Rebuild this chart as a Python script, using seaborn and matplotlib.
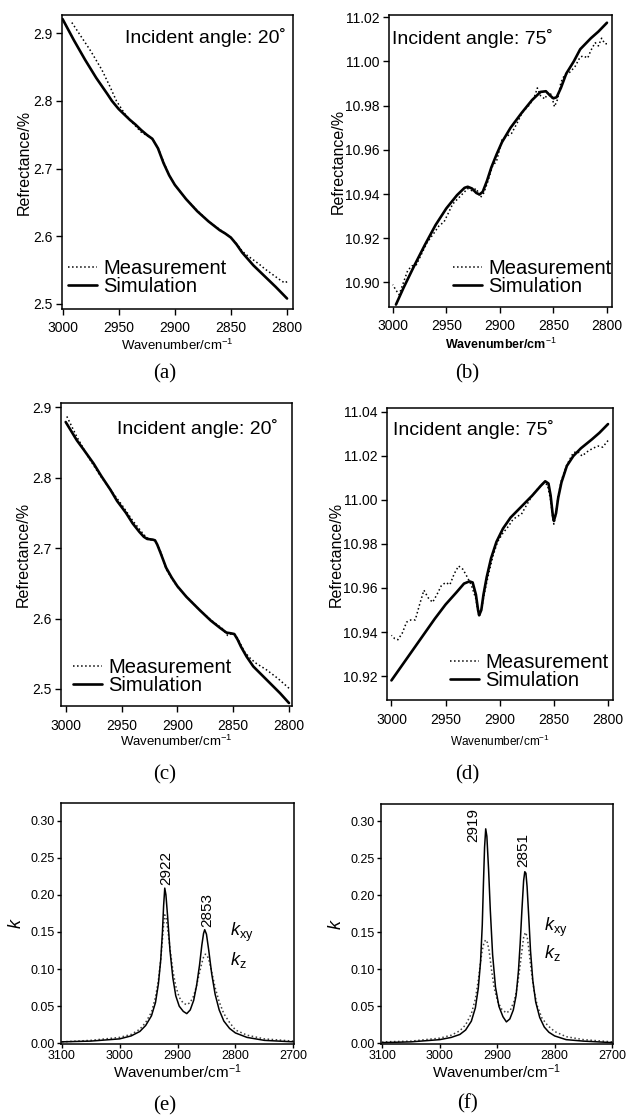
import pandas as pd
import seaborn as sns
import matplotlib.pyplot as plt
from matplotlib.ticker import FormatStrFormatter, MultipleLocator

# --- (a) incident angle 20 deg ---
a_meas_wn = [2993, 2985, 2975, 2965, 2958, 2952, 2945, 2940, 2935, 2930, 2925, 2920, 2915, 2910,
             2905, 2900, 2890, 2880, 2870, 2860, 2850, 2845, 2840, 2835, 2830, 2825, 2820, 2815,
             2810, 2805, 2802, 2800]
a_meas_r = [2.919, 2.899, 2.874, 2.846, 2.822, 2.800, 2.782, 2.772, 2.763, 2.754, 2.749, 2.744, 2.731,
            2.710, 2.690, 2.676, 2.655, 2.638, 2.622, 2.610, 2.598, 2.589, 2.578, 2.571, 2.565, 2.559,
            2.552, 2.546, 2.540, 2.534, 2.531, 2.533]
a_sim_wn = [3000, 2990, 2980, 2970, 2960, 2956, 2950, 2940, 2935, 2930, 2925, 2920, 2915, 2910, 2905,
            2900, 2890, 2880, 2870, 2860, 2855, 2850, 2845, 2840, 2830, 2820, 2810, 2800]
a_sim_r = [2.921, 2.890, 2.861, 2.834, 2.810, 2.800, 2.788, 2.772, 2.765, 2.757, 2.750, 2.744, 2.730,
           2.708, 2.690, 2.676, 2.655, 2.637, 2.622, 2.609, 2.604, 2.598, 2.588, 2.576, 2.557, 2.541,
           2.525, 2.508]

# --- (b) incident angle 75 deg ---
b_meas_wn = [3000, 2997, 2994, 2990, 2986, 2982, 2978, 2974, 2968, 2962, 2957, 2952, 2948, 2944, 2939,
             2935, 2930, 2926, 2922, 2918, 2915, 2911, 2907, 2903, 2898, 2894, 2889, 2884, 2879, 2873,
             2868, 2865, 2862, 2858, 2855, 2852, 2849, 2846, 2843, 2840, 2835, 2830, 2825, 2822, 2818,
             2815, 2811, 2808, 2805, 2802, 2800]
b_meas_r = [10.899, 10.8965, 10.8945, 10.900, 10.9055, 10.9075, 10.908, 10.912, 10.918, 10.922, 10.9255,
            10.9275, 10.9315, 10.9355, 10.938, 10.940, 10.9425, 10.9415, 10.9425, 10.9385, 10.9405,
            10.946, 10.9525, 10.955, 10.9645, 10.966, 10.9675, 10.972, 10.977, 10.980, 10.9835, 10.988,
            10.9845, 10.983, 10.986, 10.985, 10.9795, 10.983, 10.9905, 10.9935, 10.995, 10.9975, 11.002,
            11.0025, 11.0015, 11.005, 11.0085, 11.007, 11.0105, 11.008, 11.008]
b_sim_wn = [2997, 2990, 2980, 2970, 2960, 2950, 2940, 2933, 2930, 2926, 2922, 2919, 2916, 2912, 2908,
            2903, 2898, 2890, 2880, 2870, 2862, 2857, 2853, 2850, 2847, 2843, 2838, 2831, 2825, 2815,
            2808, 2800]
b_sim_r = [10.890, 10.8975, 10.9075, 10.917, 10.926, 10.9335, 10.9395, 10.9428, 10.9433, 10.9425,
           10.9405, 10.9398, 10.941, 10.946, 10.952, 10.958, 10.9635, 10.970, 10.9765, 10.9825, 10.9862,
           10.9865, 10.9845, 10.9833, 10.9838, 10.988, 10.9945, 11.000, 11.0055, 11.0105, 11.0135,
           11.0175]

# --- (c) incident angle 20 deg ---
c_meas_wn = [2999, 2990, 2980, 2970, 2960, 2950, 2940, 2930, 2925, 2920, 2915, 2910, 2905, 2900, 2890,
             2880, 2870, 2860, 2855, 2852, 2848, 2845, 2840, 2835, 2830, 2820, 2810, 2800]
c_meas_r = [2.887, 2.858, 2.830, 2.805, 2.783, 2.762, 2.739, 2.719, 2.712, 2.711, 2.695, 2.670, 2.657,
            2.645, 2.628, 2.612, 2.598, 2.586, 2.576, 2.578, 2.577, 2.569, 2.553, 2.544, 2.537, 2.527,
            2.515, 2.501]
c_sim_wn = [3000, 2990, 2984, 2975, 2968, 2960, 2954, 2946, 2940, 2934, 2930, 2927, 2922, 2920, 2918,
            2915, 2910, 2905, 2900, 2892, 2880, 2870, 2862, 2856, 2852, 2849, 2846, 2843, 2838, 2832,
            2820, 2808, 2800]
c_sim_r = [2.879, 2.853, 2.840, 2.820, 2.802, 2.783, 2.767, 2.750, 2.735, 2.723, 2.716, 2.713, 2.712,
           2.711, 2.705, 2.693, 2.672, 2.658, 2.646, 2.631, 2.612, 2.597, 2.587, 2.580, 2.579, 2.578,
           2.570, 2.560, 2.546, 2.532, 2.513, 2.494, 2.480]

# --- (d) incident angle 75 deg ---
d_meas_wn = [3000, 2997, 2994, 2990, 2986, 2982, 2978, 2974, 2970, 2966, 2962, 2958, 2954, 2950, 2946,
             2942, 2938, 2934, 2930, 2926, 2922, 2920, 2919, 2917, 2914, 2910, 2906, 2902, 2897, 2892,
             2888, 2884, 2880, 2876, 2870, 2865, 2860, 2856, 2853, 2851, 2850, 2848, 2846, 2843, 2838,
             2832, 2828, 2824, 2819, 2814, 2809, 2805, 2800]
d_meas_r = [10.9385, 10.937, 10.9365, 10.9395, 10.9445, 10.9455, 10.9455, 10.9525, 10.959, 10.9555,
            10.9535, 10.957, 10.961, 10.9625, 10.9615, 10.9665, 10.970, 10.9685, 10.965, 10.961, 10.955,
            10.949, 10.947, 10.950, 10.958, 10.967, 10.975, 10.981, 10.985, 10.988, 10.991, 10.9925,
            10.9935, 10.997, 11.002, 11.005, 11.0075, 11.007, 11.000, 10.992, 10.989, 10.994, 11.002,
            11.009, 11.016, 11.0215, 11.022, 11.020, 11.022, 11.0235, 11.0245, 11.024, 11.027]
d_sim_wn = [3000, 2990, 2980, 2970, 2960, 2950, 2940, 2933, 2928, 2925, 2922, 2920, 2919, 2917, 2915,
            2912, 2908, 2903, 2897, 2890, 2880, 2870, 2862, 2858, 2855, 2853, 2851, 2850, 2848, 2846,
            2843, 2838, 2832, 2825, 2815, 2808, 2800]
d_sim_r = [10.918, 10.925, 10.932, 10.939, 10.946, 10.9525, 10.958, 10.962, 10.963, 10.9625, 10.957,
           10.950, 10.9476, 10.950, 10.957, 10.965, 10.9735, 10.981, 10.987, 10.992, 10.997, 11.002,
           11.0065, 11.0085, 11.0075, 11.002, 10.993, 10.9905, 10.994, 11.001, 11.008, 11.0155, 11.020,
           11.0235, 11.0275, 11.0305, 11.0345]

# --- (e) optical constants k ---
e_wn = [3100, 3050, 3000, 2980, 2965, 2955, 2945, 2938, 2933, 2929, 2926, 2924, 2922, 2920, 2917, 2913,
        2908, 2903, 2897, 2890, 2884, 2878, 2872, 2867, 2862, 2858, 2855, 2853, 2850, 2846, 2841, 2835,
        2828, 2820, 2810, 2800, 2780, 2750, 2700]
e_kxy = [0.002, 0.003, 0.006, 0.010, 0.016, 0.024, 0.037, 0.055, 0.080, 0.112, 0.150, 0.185, 0.209,
         0.200, 0.170, 0.125, 0.088, 0.064, 0.050, 0.043, 0.040, 0.045, 0.058, 0.078, 0.105, 0.132,
         0.148, 0.153, 0.147, 0.125, 0.094, 0.066, 0.045, 0.030, 0.020, 0.014, 0.008, 0.004, 0.002]
e_kz_wn = [3100, 3050, 3000, 2980, 2965, 2955, 2945, 2938, 2933, 2929, 2926, 2924, 2922, 2920, 2917,
           2913, 2908, 2903, 2897, 2890, 2884, 2878, 2872, 2867, 2862, 2858, 2855, 2852, 2849, 2845,
           2840, 2835, 2828, 2820, 2810, 2800, 2780, 2750, 2700]
e_kz = [0.002, 0.004, 0.008, 0.012, 0.019, 0.028, 0.042, 0.062, 0.085, 0.112, 0.140, 0.160, 0.173,
        0.170, 0.155, 0.128, 0.098, 0.077, 0.062, 0.054, 0.052, 0.055, 0.064, 0.078, 0.095, 0.108,
        0.116, 0.120, 0.119, 0.110, 0.093, 0.075, 0.056, 0.040, 0.028, 0.018, 0.011, 0.006, 0.003]

# --- (f) optical constants k ---
f_wn = [3100, 3050, 3000, 2980, 2965, 2955, 2945, 2938, 2933, 2929, 2926, 2924, 2922, 2920, 2918, 2915,
        2912, 2908, 2903, 2897, 2890, 2884, 2878, 2872, 2867, 2863, 2860, 2857, 2854, 2852, 2850, 2848,
        2845, 2842, 2838, 2833, 2826, 2818, 2810, 2800, 2780, 2750, 2700]
f_kxy = [0.001, 0.002, 0.005, 0.008, 0.012, 0.018, 0.030, 0.048, 0.074, 0.110, 0.160, 0.215, 0.265,
         0.290, 0.280, 0.235, 0.180, 0.120, 0.076, 0.050, 0.036, 0.029, 0.033, 0.045, 0.065, 0.098,
         0.135, 0.180, 0.220, 0.232, 0.230, 0.212, 0.170, 0.125, 0.085, 0.056, 0.035, 0.022, 0.015,
         0.010, 0.005, 0.003, 0.001]
f_kz_wn = [3100, 3050, 3000, 2980, 2965, 2955, 2945, 2938, 2933, 2929, 2926, 2923, 2920, 2917, 2914,
           2910, 2905, 2899, 2892, 2884, 2877, 2870, 2865, 2861, 2857, 2854, 2851, 2848, 2845, 2841,
           2836, 2830, 2822, 2812, 2800, 2780, 2750, 2700]
f_kz = [0.002, 0.003, 0.007, 0.011, 0.017, 0.025, 0.040, 0.060, 0.085, 0.110, 0.126, 0.136, 0.140,
        0.136, 0.125, 0.100, 0.074, 0.056, 0.046, 0.041, 0.045, 0.058, 0.077, 0.100, 0.125, 0.143,
        0.150, 0.145, 0.128, 0.100, 0.072, 0.050, 0.034, 0.024, 0.016, 0.009, 0.005, 0.002]

# --- Style ---
sns.set_theme(style="ticks", rc={
    "axes.edgecolor": "black", "axes.linewidth": 1.1,
    "xtick.color": "black", "ytick.color": "black",
    "text.color": "black", "axes.labelcolor": "black",
    "xtick.major.size": 4, "ytick.major.size": 4,
    "xtick.major.width": 1.0, "ytick.major.width": 1.0,
})
plt.rcParams['font.family'] = ['Liberation Sans', 'DejaVu Sans']
plt.rcParams['mathtext.fontset'] = 'custom'
plt.rcParams['mathtext.rm'] = 'Liberation Sans'
plt.rcParams['mathtext.it'] = 'Liberation Sans:italic'

W, H = 627, 1116
fig = plt.figure(figsize=(W / 100, H / 100), dpi=100)


def rect(l, t, r, b):
    return [l / W, 1 - b / H, (r - l) / W, (b - t) / H]


XLAB = "Wavenumber/cm$^{\\mathrm{-1}}$"


def refl_panel(box, meas_wn, meas_r, sim_wn, sim_r, xlim, ylim, ystep, yfmt, angle, angle_xy, angle_ha,
               leg_xy, xlab_kw, xlab_pad, ylab_pad):
    ax = fig.add_axes(rect(*box))
    sns.lineplot(x=meas_wn, y=meas_r, ax=ax, color='black', linestyle=':', lw=1.1, label='Measurement')
    sns.lineplot(x=sim_wn, y=sim_r, ax=ax, color='black', lw=1.9, label='Simulation')
    ax.set_xlim(*xlim)
    ax.set_ylim(*ylim)
    ax.xaxis.set_major_locator(MultipleLocator(50))
    ax.yaxis.set_major_locator(MultipleLocator(ystep))
    ax.yaxis.set_major_formatter(FormatStrFormatter(yfmt))
    ax.tick_params(labelsize=10, pad=3)
    ax.tick_params(axis='x', pad=5)
    ax.set_xlabel(XLAB, labelpad=xlab_pad, **xlab_kw)
    ax.set_ylabel("Refrectance/%", fontsize=11.5, labelpad=ylab_pad)
    ax.text(angle_xy[0], angle_xy[1], angle, transform=ax.transAxes, ha=angle_ha, va='center', fontsize=14)
    ax.legend(loc='center left', bbox_to_anchor=leg_xy, frameon=False, fontsize=14.5, handlelength=1.45,
              handletextpad=0.3, labelspacing=-0.05, borderpad=0, borderaxespad=0)
    return ax


refl_panel((62, 15, 293, 309), a_meas_wn, a_meas_r, a_sim_wn, a_sim_r, (3000.5, 2794.7), (2.4925, 2.927),
           0.1, '%.1f', "Incident angle: 20˚", (0.97, 0.922), 'right', (0.026, 0.107),
           dict(fontsize=9.5), 2, 1)
refl_panel((389, 15, 612, 307), b_meas_wn, b_meas_r, b_sim_wn, b_sim_r, (3003.5, 2795.3), (10.8889, 11.021),
           0.02, '%.2f', "Incident angle: 75˚", (0.012, 0.92), 'left', (0.287, 0.101),
           dict(fontsize=9, fontweight='bold'), 2.5, -1)
refl_panel((61, 403, 292, 706), c_meas_wn, c_meas_r, c_sim_wn, c_sim_r, (3004.2, 2797.3), (2.4758, 2.906),
           0.1, '%.1f', "Incident angle: 20˚", (0.94, 0.917), 'right', (0.052, 0.097),
           dict(fontsize=9.5), 1, 1)
refl_panel((387, 408, 613, 700), d_meas_wn, d_meas_r, d_sim_wn, d_sim_r, (3004.1, 2795.4), (10.9091, 11.0418),
           0.02, '%.2f', "Incident angle: 75˚", (0.025, 0.925), 'left', (0.279, 0.099),
           dict(fontsize=8.5), 5, -1)


def k_panel(box, kxy_wn, kxy, kz_wn, kz, xlim, peaks, sub_x, sub_y):
    ax = fig.add_axes(rect(*box))
    sns.lineplot(x=kz_wn, y=kz, ax=ax, color='0.25', linestyle=':', lw=1.1)
    sns.lineplot(x=kxy_wn, y=kxy, ax=ax, color='black', lw=1.1)
    ax.set_xlim(*xlim)
    ax.set_ylim(-0.0009, 0.3236)
    ax.xaxis.set_major_locator(MultipleLocator(100))
    ax.yaxis.set_major_locator(MultipleLocator(0.05))
    ax.yaxis.set_major_formatter(FormatStrFormatter('%.2f'))
    ax.tick_params(labelsize=9, pad=1.5, length=3)
    ax.set_xlabel(XLAB, fontsize=11, labelpad=0)
    ax.set_ylabel("$k$", fontsize=13, labelpad=4)
    for label, px, py in peaks:
        ax.text(px, py, label, rotation=90, ha='center', va='bottom', fontsize=11)
    ax.text(sub_x, sub_y[0], "$k_{\\mathrm{xy}}$", ha='left', va='center', fontsize=13)
    ax.text(sub_x, sub_y[1], "$k_{\\mathrm{z}}$", ha='left', va='center', fontsize=13)
    return ax


k_panel((61, 803, 294, 1044), e_wn, e_kxy, e_kz_wn, e_kz, (3101.2, 2698.8),
        [("2922", 2920, 0.213), ("2853", 2849, 0.157)], 2809, (0.149, 0.112))
k_panel((381, 804, 613, 1044), f_wn, f_kxy, f_kz_wn, f_kz, (3102.3, 2698.4),
        [("2919", 2942, 0.272), ("2851", 2855, 0.238)], 2819, (0.157, 0.122))

# panel letters
for lab, x, y in [("(a)", 165, 374), ("(b)", 467, 374), ("(c)", 165, 775), ("(d)", 467, 775),
                  ("(e)", 165, 1106), ("(f)", 467, 1104)]:
    fig.text(x / W, 1 - y / H, lab, ha='center', va='center', fontsize=15, family='Liberation Serif')

fig.savefig("out.png", dpi=100)
